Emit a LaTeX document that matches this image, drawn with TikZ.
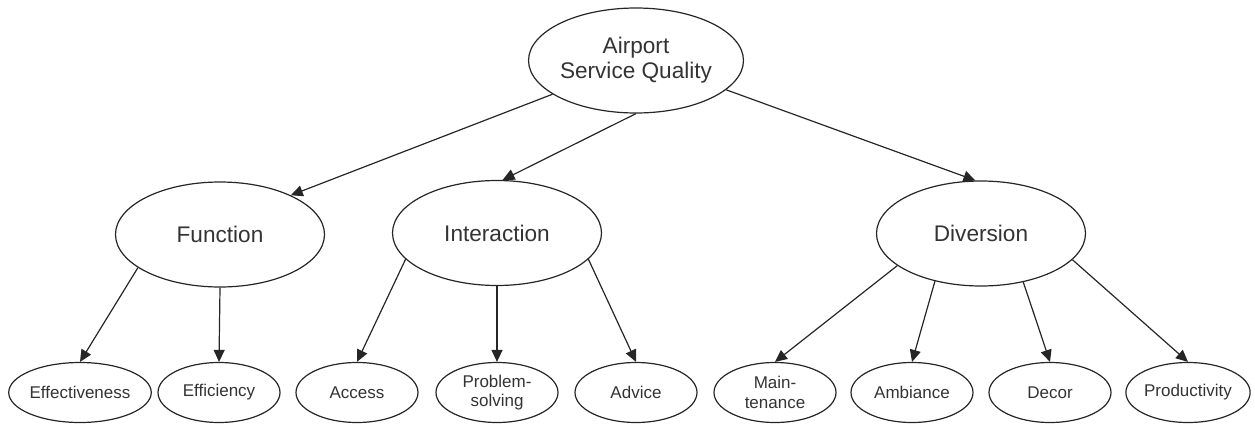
\documentclass[tikz,border=0pt]{standalone}
\usepackage{fontspec}
\setmainfont{Liberation Sans}
\usetikzlibrary{shapes.geometric,arrows.meta}

\begin{document}
\begin{tikzpicture}[x=1pt,y=-1pt,
  oval/.style={ellipse, draw=black!85, line width=1.2pt, inner sep=0pt,
               text=black!80, align=center},
  big/.style={oval, minimum width=209pt, minimum height=105pt,
              font=\fontsize{22.6}{25}\selectfont},
  small/.style={oval, minimum width=122pt, minimum height=60pt,
                font=\fontsize{17}{19.5}\selectfont},
  link/.style={draw=black!85, line width=1.2pt,
               -{Triangle[length=12pt,width=11pt]}}]
\useasboundingbox (0,0) rectangle (1255,423);

% root
\node[big] (asq) at (636,60.5) {Airport\\Service Quality};

% dimensions
\node[big] (fun) at (220,234.5) {Function};
\node[big] (int) at (497,233) {Interaction};
\node[big] (div) at (981,233.5) {Diversion};

% attributes
\node[small, minimum width=136pt] (eff) at (80,392.5) {Effectiveness};
\node[small] (efc) at (219,392.5) {Efficiency};
\node[small] (acc) at (357,392.5) {Access};
\node[small] (prb) at (497,392.5) {Problem-\\solving};
\node[small] (adv) at (636,392.5) {Advice};
\node[small] (mnt) at (775,392.5) {Main-\\tenance};
\node[small] (amb) at (912,392.5) {Ambiance};
\node[small] (dec) at (1050,392.5) {Decor};
\node[small] (prd) at (1188,392.5) {Productivity};

% root to dimensions
\draw[link] (asq.202) -- (fun.29);
\draw[link] (asq.south) -- (int.84);
\draw[link] (asq.342) -- (div.96);

% dimensions to attributes
\draw[link] (fun.202) -- (eff.north);
\draw[link] (fun.south) -- (efc.north);
\draw[link] (int.196) -- (acc.north);
\draw[link] (int.south) -- (prb.north);
\draw[link] (int.344) -- (adv.north);
\draw[link] (div.201) -- (mnt.north);
\draw[link] (div.226) -- (amb.north);
\draw[link] (div.311) -- (dec.north);
\draw[link] (div.344) -- (prd.north);
\end{tikzpicture}
\end{document}
